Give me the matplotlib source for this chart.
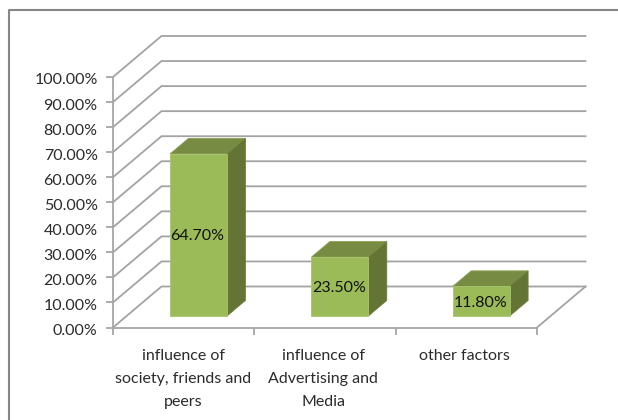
import matplotlib
matplotlib.use('Agg')
import matplotlib.pyplot as plt
from matplotlib.lines import Line2D
from matplotlib.patches import Polygon
from matplotlib.ticker import FuncFormatter, MultipleLocator
from matplotlib.transforms import ScaledTranslation

categories = ['influence of\nsociety, friends and\npeers', 'influence of\nAdvertising and\nMedia', 'other factors']
values = [64.7, 23.5, 11.8]
value_labels = ['64.70%', '23.50%', '11.80%']

W, H = 618, 420
plt.rcParams['font.family'] = ['Lato', 'DejaVu Sans']

# fake 3d: depth goes up and to the right, in data units
DX = 48.5 / 424 * 3
DY = 41 / 250.5 * 100
BAR_W = 0.403
BAR_SHIFT = 0.009
D0, D1 = 0.28, 0.66


def proj(x, y, d=0.0):
    return x + DX * d, y + DY * d


fig = plt.figure(figsize=(W / 100, H / 100), dpi=100)
ax = fig.add_axes([113 / W, 1 - 327.5 / H, 424 / W, 250.5 / H])
ax.set_xlim(0, 3)
ax.set_ylim(0, 100)
ax.patch.set_visible(False)
for side in ['top', 'right']:
    ax.spines[side].set_visible(False)
for side in ['left', 'bottom']:
    ax.spines[side].set_color('#a6a6a6')
    ax.spines[side].set_linewidth(1.3)

grid = '#a3a3a3'
for v in range(0, 110, 10):
    # wall diagonal + back wall line
    x0, y0 = proj(0, v, 1)
    x1, y1 = proj(3, v, 1)
    ax.plot([0, x0, x1], [v, y0, y1], color=grid, lw=1.3, clip_on=False, zorder=1,
            solid_joinstyle='miter')
# floor right edge
x1, y1 = proj(3, 0, 1)
ax.plot([3, x1], [0, y1], color=grid, lw=1.3, clip_on=False, zorder=1)

ax.yaxis.set_major_locator(MultipleLocator(10))
ax.yaxis.set_major_formatter(FuncFormatter(lambda v, p: '%.2f%%' % v))
ax.set_xticks([0, 1, 2, 3])
ax.set_xticklabels([])
ax.tick_params(axis='y', length=5, width=1.3, color='#a6a6a6', labelsize=11.5,
               labelcolor='#2b2b2b', pad=6)
ax.tick_params(axis='x', length=5, width=1.3, color='#a6a6a6')
# labels sit slightly under their ticks in the original
down = ScaledTranslation(0, -2 / 100, fig.dpi_scale_trans)
for t in ax.get_yticklabels():
    t.set_transform(t.get_transform() + down)

for i, (cat, v, lab) in enumerate(zip(categories, values, value_labels)):
    left = i + 0.5 + BAR_SHIFT - BAR_W / 2
    right = i + 0.5 + BAR_SHIFT + BAR_W / 2
    # top and side faces first, front on top
    top = [proj(left, v, D0), proj(right, v, D0), proj(right, v, D1), proj(left, v, D1)]
    side = [proj(right, 0, D0), proj(right, v, D0), proj(right, v, D1), proj(right, 0, D1)]
    front = [proj(left, 0, D0), proj(right, 0, D0), proj(right, v, D0), proj(left, v, D0)]
    ax.add_patch(Polygon(top, fc='#778b43', ec='#8a9e52', lw=0.6, clip_on=False, zorder=3))
    ax.add_patch(Polygon(side, fc='#637434', ec='#6d7f3b', lw=0.6, clip_on=False, zorder=3))
    ax.add_patch(Polygon(front, fc='#9bbb59', ec='#a9c56f', lw=0.6, clip_on=False, zorder=4))
    cx, cy = proj(i + 0.5 + BAR_SHIFT, v / 2, D0)
    ax.annotate(lab, xy=(cx, cy), xytext=(-0.8, -1), textcoords='offset points',
                ha='center', va='center', fontsize=11.5, color='#111111', zorder=5)
    ax.annotate(cat, xy=(i + 0.5, 0), xytext=(-1.2 * min(i, 1) - 0.2, -15.5), textcoords='offset points',
                ha='center', va='top', fontsize=11.5, color='#2b2b2b',
                linespacing=1.8, annotation_clip=False)

# chart frame runs off the picture on the right and bottom
fx, fy = 9 / W, 1 - 10 / H
fig.add_artist(Line2D([fx, fx, 1], [0, fy, fy], color='#868686', lw=1.5))

fig.savefig('out.png', dpi=100, facecolor='white')
